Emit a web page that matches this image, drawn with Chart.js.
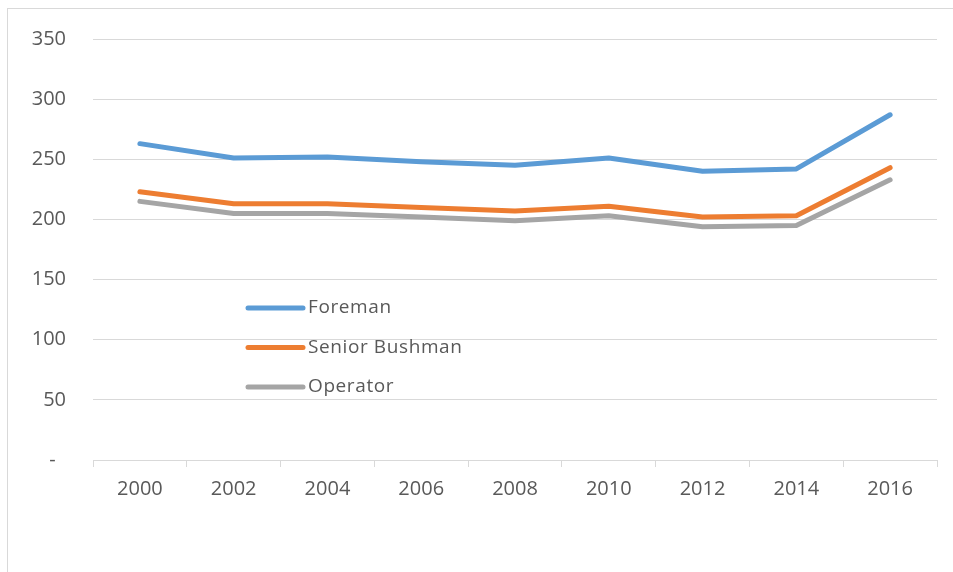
<!DOCTYPE html>
<html>
<head>
<meta charset="utf-8">
<script src="https://cdn.jsdelivr.net/npm/chart.js@4"></script>
<style>
  html, body { margin: 0; padding: 0; background: #fff; overflow: hidden; }
  #frame { position: absolute; left: 7px; top: 8px; width: 1000px; height: 600px; border: 1px solid #d9d9d9; }
  #wrap { position: absolute; left: 0; top: 0; width: 953px; height: 572px; }
</style>
</head>
<body>
<div id="frame"></div>
<div id="wrap"><canvas id="chart" width="953" height="572"></canvas></div>
<script>
const years = ["2000", "2002", "2004", "2006", "2008", "2010", "2012", "2014", "2016"]
const foreman = [263, 251, 252, 248, 245, 251, 240, 242, 287]
const seniorBushman = [223, 213, 213, 210, 207, 211, 202, 203, 243]
const operator = [215, 205, 205, 202, 199, 203, 194, 195, 233]
const seriesNames = ["Foreman", "Senior Bushman", "Operator"]
const seriesColors = ["#5b9bd5", "#ed7d31", "#a5a5a5"]

const tickFont = { family: "'Open Sans', sans-serif", size: 20 }
const txtColor = "#595959"

// legend drawn inside the plot area, like the original
const innerLegend = {
    id: "innerLegend",
    afterDatasetsDraw(chart) {
        const ctx = chart.ctx
        const area = chart.chartArea
        const x0 = area.left + 155
        const y0 = area.top + 269
        ctx.save()
        chart.data.datasets.forEach((ds, i) => {
            const y = y0 + i * 39.5
            ctx.strokeStyle = ds.borderColor
            ctx.lineWidth = 5
            ctx.lineCap = "round"
            ctx.beginPath()
            ctx.moveTo(x0, y)
            ctx.lineTo(x0 + 55, y)
            ctx.stroke()
            ctx.fillStyle = txtColor
            ctx.font = "19px 'Open Sans', sans-serif"
            ctx.letterSpacing = "0.6px"
            ctx.textBaseline = "middle"
            ctx.textAlign = "left"
            ctx.fillText(ds.label, x0 + 60, y)
        })
        ctx.restore()
    }
}

const mkSet = (i, data) => ({
    label: seriesNames[i],
    data: data,
    borderColor: seriesColors[i],
    backgroundColor: seriesColors[i],
    borderWidth: 5,
    borderCapStyle: "round",
    borderJoinStyle: "round",
    pointRadius: 0,
    tension: 0,
    fill: false
})

new Chart(document.getElementById("chart"), {
    type: "line",
    data: {
        labels: years,
        datasets: [mkSet(0, foreman), mkSet(1, seniorBushman), mkSet(2, operator)]
    },
    options: {
        responsive: false,
        animation: false,
        layout: { padding: { top: 36, right: 16, left: 0, bottom: 0 } },
        plugins: {
            legend: { display: false },
            tooltip: { enabled: false }
        },
        scales: {
            x: {
                offset: true,
                afterFit(s) { s.height = 112 },
                grid: { offset: true, drawOnChartArea: false, drawTicks: true, tickLength: 7, color: "#d9d9d9", lineWidth: 1 },
                border: { display: true, color: "#d9d9d9", width: 1 },
                ticks: { color: txtColor, font: tickFont, padding: 10, maxRotation: 0 }
            },
            y: {
                min: 0,
                max: 350,
                afterFit(s) { s.width = 93 },
                grid: { drawTicks: false, color: "#d9d9d9", lineWidth: 1 },
                border: { display: false },
                ticks: {
                    stepSize: 50,
                    color: txtColor,
                    font: tickFont,
                    padding: 27,
                    callback: v => v === 0 ? "-  " : v
                }
            }
        }
    },
    plugins: [innerLegend]
})
</script>
</body>
</html>
